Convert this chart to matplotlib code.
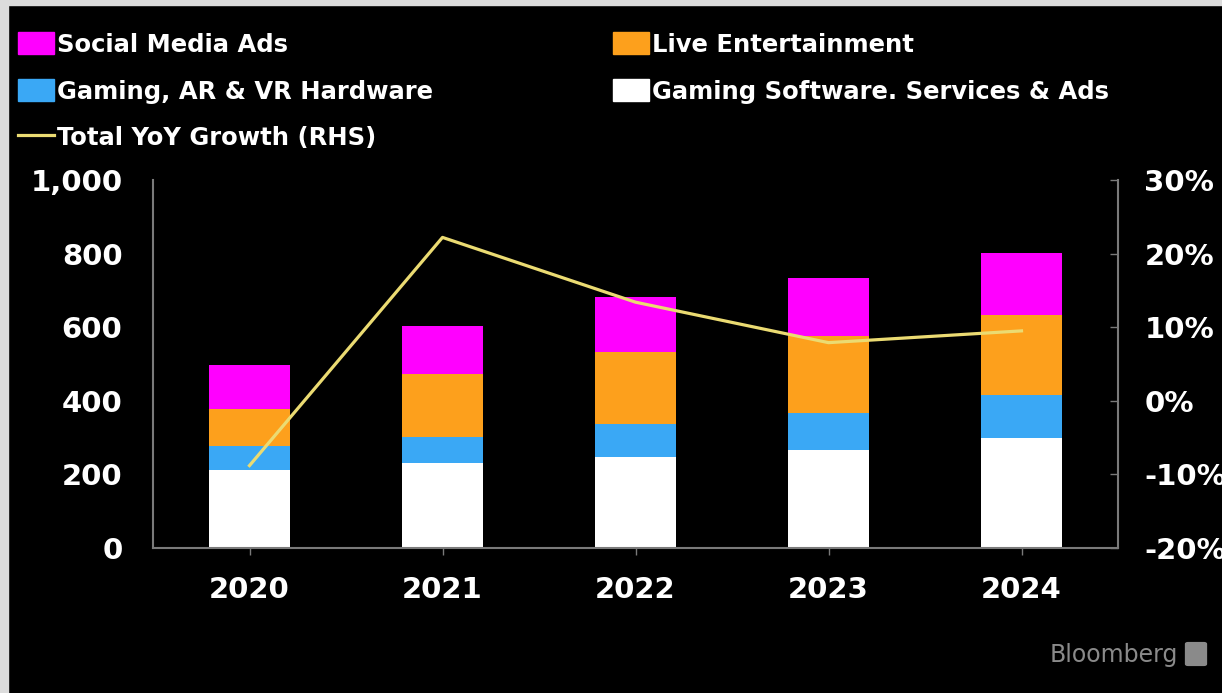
import numpy as np
import matplotlib.pyplot as plt
from matplotlib.patches import Rectangle, FancyBboxPatch
from matplotlib.lines import Line2D
from matplotlib.ticker import FuncFormatter

years = ['2020', '2021', '2022', '2023', '2024']
gaming_software = [212, 232, 248, 266, 298]
gaming_hardware = [65, 70, 89, 101, 118]
live_entertainment = [100, 171, 196, 209, 217]
social_media_ads = [120, 130, 149, 158, 168]
yoy_growth = [-8.8, 22.2, 13.4, 7.9, 9.5]

labels = ['Social Media Ads', 'Gaming, AR & VR Hardware', 'Total YoY Growth (RHS)',
          'Live Entertainment', 'Gaming Software. Services & Ads']
c_social = '#ff00ff'
c_live = '#fda01c'
c_hw = '#3aa8f5'
c_sw = '#ffffff'
c_line = '#ebdb72'
c_axis = '#7a7a7a'

plt.rcParams['font.family'] = 'DejaVu Sans'
plt.rcParams['font.weight'] = 'bold'

W, H = 1222, 693
fig = plt.figure(figsize=(W / 100, H / 100), dpi=100, facecolor='black')

# light frame along the top and left edge
fig.patches.append(Rectangle((0, 1 - 5 / H), 1, 5 / H, transform=fig.transFigure,
                             color='#dcdcdc', zorder=0))
fig.patches.append(Rectangle((0, 0), 8 / W, 1, transform=fig.transFigure,
                             color='#dcdcdc', zorder=0))

ax = fig.add_axes([153 / W, 145 / H, 965 / W, 368 / H])
ax.set_facecolor('black')
x = np.arange(len(years))
bw = 0.42
bottom = np.zeros(len(years))
for vals, col in [(gaming_software, c_sw), (gaming_hardware, c_hw),
                  (live_entertainment, c_live), (social_media_ads, c_social)]:
    ax.bar(x, vals, bw, bottom=bottom, color=col, linewidth=0)
    bottom += np.array(vals)

ax.set_xlim(-0.5, 4.5)
ax.set_ylim(0, 1000)
ax.set_yticks(range(0, 1001, 200))
ax.yaxis.set_major_formatter(FuncFormatter(lambda v, p: f'{v:,.0f}'))
ax.set_xticks(x)
ax.set_xticklabels(years)
ax.tick_params(axis='y', length=0, pad=22, labelsize=21, labelcolor='white')
ax.tick_params(axis='x', length=5, width=1, color=c_axis, pad=15,
               labelsize=21, labelcolor='white')
for s in ['top', 'right']:
    ax.spines[s].set_visible(False)
for s in ['left', 'bottom']:
    ax.spines[s].set_color(c_axis)
    ax.spines[s].set_linewidth(1.5)

ax2 = ax.twinx()
ax2.plot(x, yoy_growth, color=c_line, linewidth=2.3)
ax2.set_ylim(-20, 30)
ax2.set_yticks(range(-20, 31, 10))
ax2.yaxis.set_major_formatter(FuncFormatter(lambda v, p: f'{v:.0f}%'))
ax2.tick_params(axis='y', direction='in', length=6, width=1, color=c_axis,
                pad=19, labelsize=21, labelcolor='white')
for s in ['top', 'left', 'bottom']:
    ax2.spines[s].set_visible(False)
ax2.spines['right'].set_color(c_axis)
ax2.spines['right'].set_linewidth(1.5)

# legend, two columns drawn by hand
handles = [c_social, c_hw, None, c_live, c_sw]
spots = [(18, 43), (18, 90), (18, 135), (613, 43), (613, 90)]
for lab, col, (px, py) in zip(labels, handles, spots):
    fy = 1 - py / H
    if col is None:
        fig.add_artist(Line2D([px / W, (px + 36) / W], [fy, fy], color=c_line,
                              linewidth=2.3, transform=fig.transFigure))
    else:
        fig.patches.append(Rectangle((px / W, fy - 11 / H), 36 / W, 22 / H,
                                     transform=fig.transFigure, color=col))
    fig.text((px + 39) / W, fy, lab, color='white', fontsize=17.5,
             ha='left', va='center_baseline')

fig.text(1178 / W, 1 - 655 / H, 'Bloomberg', color='#8a8a8a', fontsize=17,
         fontweight='normal', ha='right', va='center')
fig.patches.append(FancyBboxPatch((1188 / W, 1 - 664 / H), 16 / W, 20 / H,
                                  boxstyle='round,pad=0.002', transform=fig.transFigure,
                                  color='#8a8a8a'))

fig.savefig('out.png', dpi=100, facecolor='black')
